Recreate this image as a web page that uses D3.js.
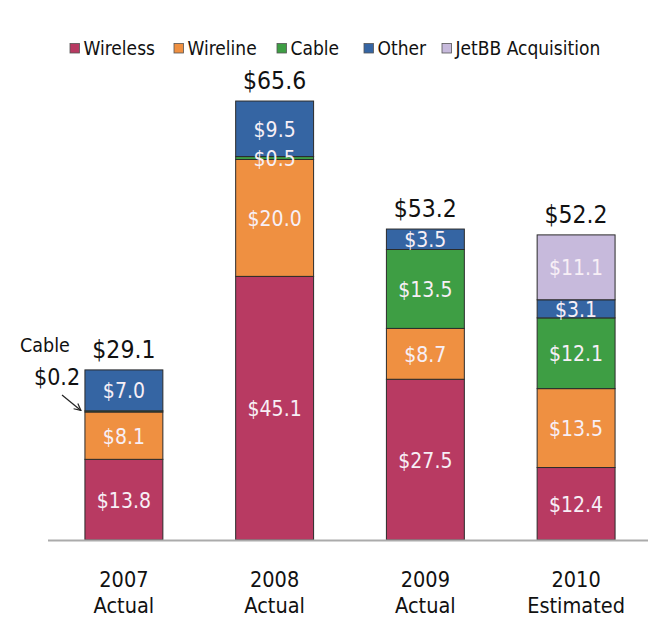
<!DOCTYPE html>
<html>
<head>
<meta charset="utf-8">
<script src="https://cdn.jsdelivr.net/npm/d3@7/dist/d3.min.js"></script>
<style>
  html, body { margin: 0; padding: 0; background: #fff; }
  svg { display: block; font-family: "DejaVu Sans Condensed", "DejaVu Sans", Verdana, sans-serif; font-stretch: condensed; }
</style>
</head>
<body>
<svg id="chart" width="660" height="630"></svg>
<script>
// Revenue by segment, $ millions
const years = ["2007", "2008", "2009", "2010"];
const yearNotes = ["Actual", "Actual", "Actual", "Estimated"];
const segments = ["Wireless", "Wireline", "Cable", "Other", "JetBB Acquisition"];
const wireless = [13.8, 45.1, 27.5, 12.4];
const wireline = [8.1, 20.0, 8.7, 13.5];
const cable    = [0.2, 0.5, 13.5, 12.1];
const other    = [7.0, 9.5, 3.5, 3.1];
const jetbb    = [0, 0, 0, 11.1];
const totals   = ["$29.1", "$65.6", "$53.2", "$52.2"];
const colors = ["#B83A62", "#EF9041", "#3E9E44", "#3565A3", "#C7BADC"];

const series = [wireless, wireline, cable, other, jetbb];
const table = years.map((y, i) => {
  const row = { year: y };
  segments.forEach((s, k) => { row[s] = series[k][i]; });
  return row;
});

const svg = d3.select("#chart");
const baseY = 540;

const x = d3.scaleBand().domain(years).range([48, 652])
  .paddingInner(0.483).paddingOuter(0.245);
const y = d3.scaleLinear().domain([0, 80]).range([baseY, baseY - 80 * 5.845]);

const stacked = d3.stack().keys(segments)(table);

// stacked bars
const layers = svg.append("g").selectAll("g")
  .data(stacked).join("g")
  .attr("fill", (d, k) => colors[k]);

layers.selectAll("rect")
  .data(d => d.filter(p => p[1] - p[0] > 0))
  .join("rect")
  .attr("x", p => x(p.data.year))
  .attr("width", x.bandwidth())
  .attr("y", p => y(p[1]))
  .attr("height", p => y(p[0]) - y(p[1]))
  .attr("stroke", "#2b2b2b")
  .attr("stroke-width", 1);

// segment value labels (the 2007 cable sliver is annotated outside)
const segLabels = [];
stacked.forEach((layer, k) => {
  layer.forEach((p, i) => {
    const v = p[1] - p[0];
    if (v <= 0) return;
    if (i === 0 && k === 2) return;
    segLabels.push({ year: p.data.year, v, mid: (p[0] + p[1]) / 2 });
  });
});
svg.append("g").selectAll("text")
  .data(segLabels).join("text")
  .attr("x", d => x(d.year) + x.bandwidth() / 2)
  .attr("y", d => y(d.mid) + 8)
  .attr("text-anchor", "middle")
  .attr("font-size", 21)
  .attr("fill", "#F7EFF6")
  .text(d => "$" + d.v.toFixed(1));

// totals above bars
svg.append("g").selectAll("text")
  .data(table).join("text")
  .attr("x", d => x(d.year) + x.bandwidth() / 2)
  .attr("y", d => y(d3.sum(segments, s => d[s])) - 12)
  .attr("text-anchor", "middle")
  .attr("font-size", 24.5)
  .attr("fill", "#111")
  .text((d, i) => totals[i]);

// baseline
svg.append("line")
  .attr("x1", 48).attr("x2", 648)
  .attr("y1", baseY + 0.5).attr("y2", baseY + 0.5)
  .attr("stroke", "#ababab").attr("stroke-width", 2);

// category labels
const xl = svg.append("g").selectAll("text")
  .data(years).join("text")
  .attr("text-anchor", "middle")
  .attr("font-size", 21.5)
  .attr("fill", "#111");
xl.append("tspan")
  .attr("x", d => x(d) + x.bandwidth() / 2).attr("y", 587)
  .text(d => d);
xl.append("tspan")
  .attr("x", d => x(d) + x.bandwidth() / 2).attr("y", 613)
  .text((d, i) => yearNotes[i]);

// annotation for the thin 2007 cable segment
const cabTop = y(wireless[0] + wireline[0] + cable[0] / 2);
svg.append("text").attr("x", 20).attr("y", 352)
  .attr("font-size", 19.5).attr("fill", "#111").text("Cable");
svg.append("text").attr("x", 34).attr("y", 385)
  .attr("font-size", 23).attr("fill", "#111").text("$" + cable[0].toFixed(1));
svg.append("defs").append("marker")
  .attr("id", "arrow").attr("viewBox", "0 0 10 10")
  .attr("refX", 9).attr("refY", 5)
  .attr("markerWidth", 7).attr("markerHeight", 7)
  .attr("orient", "auto")
  .append("path").attr("d", "M1,1 L9,5 L1,9").attr("fill", "none")
  .attr("stroke", "#222").attr("stroke-width", 1.4);
svg.append("line")
  .attr("x1", 62).attr("y1", 395)
  .attr("x2", x(years[0]) - 4).attr("y2", cabTop - 1)
  .attr("stroke", "#222").attr("stroke-width", 1.2)
  .attr("marker-end", "url(#arrow)");

// legend
const legendBoxX = [70, 174, 277, 364, 442];
const lg = svg.append("g").selectAll("g")
  .data(segments).join("g");
lg.append("rect")
  .attr("x", (d, i) => legendBoxX[i]).attr("y", 43.5)
  .attr("width", 9.5).attr("height", 9.5)
  .attr("fill", (d, i) => colors[i])
  .attr("stroke", "#555").attr("stroke-width", 0.8);
lg.append("text")
  .attr("x", (d, i) => legendBoxX[i] + 13.5).attr("y", 55)
  .attr("font-size", 19).attr("fill", "#111")
  .text(d => d);
</script>
</body>
</html>
